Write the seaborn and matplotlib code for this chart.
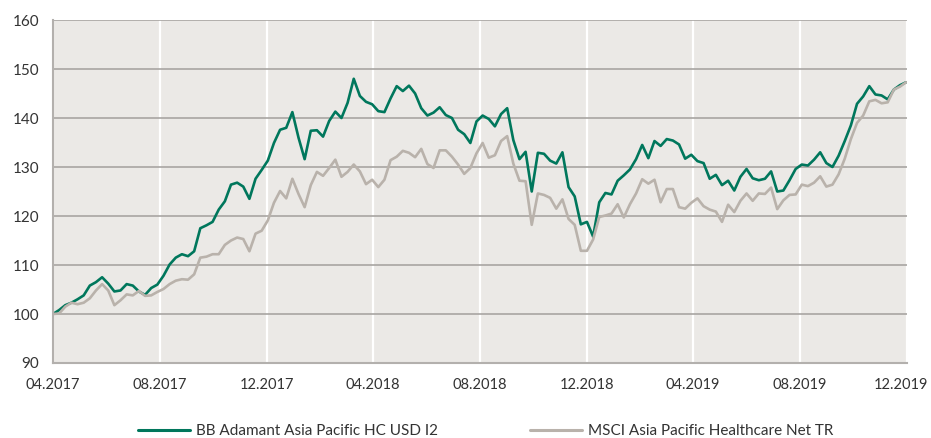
import pandas as pd
import matplotlib
matplotlib.use("Agg")
import matplotlib.pyplot as plt
import matplotlib.dates as mdates
import matplotlib.transforms as mtransforms
from matplotlib.lines import Line2D
import seaborn as sns

# weekly closes, indexed to 100 at start
dates = pd.date_range("2017-04-01", periods=140, freq="7D")

fund = [100.0, 100.8, 101.8, 102.3, 103.0, 103.8, 105.8, 106.5, 107.5, 106.2,
        104.6, 104.8, 106.1, 105.8, 104.6, 103.9, 105.3, 106.0, 107.8, 110.1,
        111.5, 112.2, 111.8, 112.8, 117.5, 118.1, 118.8, 121.3, 123.0, 126.4,
        126.8, 126.0, 123.5, 127.6, 129.4, 131.3, 134.9, 137.6, 138.0, 141.2,
        136.0, 131.6, 137.4, 137.5, 136.2, 139.4, 141.3, 140.0, 143.1, 148.0,
        144.5, 143.3, 142.8, 141.4, 141.2, 144.0, 146.5, 145.5, 146.6, 145.0,
        142.0, 140.5, 141.1, 142.2, 140.6, 140.0, 137.6, 136.7, 134.9, 139.3,
        140.5, 139.8, 138.3, 140.8, 142.0, 135.5, 131.6, 133.1, 125.0, 132.9,
        132.7, 131.3, 130.7, 133.0, 125.9, 124.0, 118.3, 118.8, 115.8, 122.8,
        124.7, 124.4, 127.2, 128.3, 129.5, 131.6, 134.5, 131.8, 135.3, 134.3,
        135.7, 135.4, 134.6, 131.7, 132.5, 131.2, 130.8, 127.6, 128.4, 126.3,
        127.2, 125.2, 128.0, 129.6, 127.7, 127.3, 127.6, 129.1, 125.0, 125.2,
        127.3, 129.6, 130.5, 130.3, 131.5, 133.0, 130.8, 130.0, 132.3, 135.3,
        138.5, 142.9, 144.4, 146.5, 144.8, 144.6, 143.8, 145.8, 146.7, 147.3]

bench = [100.0, 100.1, 101.5, 102.3, 102.0, 102.3, 103.2, 104.8, 106.1, 104.8,
         101.8, 102.8, 104.0, 103.8, 104.7, 103.7, 103.8, 104.5, 105.1, 106.1,
         106.8, 107.1, 107.0, 108.1, 111.5, 111.7, 112.2, 112.2, 114.1, 115.0,
         115.6, 115.3, 112.8, 116.4, 117.0, 119.1, 122.7, 125.1, 123.6, 127.6,
         124.5, 121.8, 126.3, 129.0, 128.2, 129.8, 131.5, 128.0, 129.0, 130.5,
         129.1, 126.5, 127.4, 125.9, 127.4, 131.4, 132.1, 133.3, 132.9, 132.0,
         133.7, 130.6, 129.8, 133.4, 133.4, 132.1, 130.5, 128.6, 129.8, 132.8,
         134.9, 131.9, 132.4, 135.3, 136.3, 130.7, 127.2, 127.1, 118.2, 124.6,
         124.3, 123.7, 121.5, 123.4, 119.4, 118.2, 112.9, 112.9, 115.2, 119.8,
         120.1, 120.5, 122.4, 119.7, 122.4, 124.6, 127.5, 126.6, 127.4, 122.8,
         125.5, 125.5, 121.8, 121.5, 122.7, 123.6, 122.0, 121.3, 120.9, 118.8,
         122.3, 120.8, 123.1, 124.6, 123.1, 124.6, 124.5, 125.8, 121.4, 123.2,
         124.3, 124.4, 126.4, 126.1, 126.8, 128.1, 126.0, 126.4, 128.5, 131.7,
         135.7, 139.0, 140.5, 143.4, 143.7, 143.0, 143.2, 145.8, 146.4, 147.3]

names = ["BB Adamant Asia Pacific HC USD I2", "MSCI Asia Pacific Healthcare Net TR"]
y_ticks = [90, 100, 110, 120, 130, 140, 150, 160]

green = "#00775c"
grey = "#b9b2ab"

df = pd.DataFrame({"date": dates, names[0]: fund, names[1]: bench})
df = df.melt("date", var_name="series", value_name="value")

sns.set_theme(style="white")
plt.rcParams["font.family"] = ["Lato", "DejaVu Sans"]

fig = plt.figure(figsize=(9.31, 4.38), dpi=100)
ax = fig.add_axes([53 / 931, 1 - 363 / 438, 854 / 931, 343 / 438])
ax.set_facecolor("#ebe9e6")

sns.lineplot(data=df, x="date", y="value", hue="series", hue_order=names,
             palette=[green, grey], linewidth=1.9, ax=ax, legend=False)

ax.set_xlim(pd.Timestamp("2017-04-01"), pd.Timestamp("2019-12-01"))
ax.set_ylim(90, 160)
ax.set_yticks(y_ticks)
ax.xaxis.set_major_locator(mdates.MonthLocator(bymonth=[4, 8, 12]))
ax.xaxis.set_major_formatter(mdates.DateFormatter("%m.%Y"))
ax.set_xlabel("")
ax.set_ylabel("")

ax.set_axisbelow(True)
ax.yaxis.grid(True, color="#a8a5a2", linewidth=1.2)
ax.xaxis.grid(True, color="white", linewidth=1.6)

for s in ["top", "right"]:
    ax.spines[s].set_visible(False)
for s in ["left", "bottom"]:
    ax.spines[s].set_color("#b3b0ad")
    ax.spines[s].set_linewidth(1.5)

ax.tick_params(axis="both", colors="#b3b0ad", labelcolor="#333333",
               labelsize=11, length=5, width=1.2, direction="out")
ax.tick_params(axis="x", pad=6, labelsize=10.5)
ax.tick_params(axis="y", pad=5)

# keep the last date label inside the canvas
fig.canvas.draw()
last = ax.get_xticklabels()[-1]
last.set_transform(mtransforms.offset_copy(last.get_transform(), fig=fig, x=-6, y=0, units="dots"))

handles = [Line2D([], [], color=green, lw=2.2), Line2D([], [], color=grey, lw=2.2)]
fig.legend(handles, names, loc="center", bbox_to_anchor=(0.522, 0.015), ncol=2,
           frameon=False, fontsize=11, handlelength=3.4, handletextpad=0.4,
           columnspacing=6.0, borderpad=0, labelcolor="#333333")

fig.savefig("out.png", dpi=100)
